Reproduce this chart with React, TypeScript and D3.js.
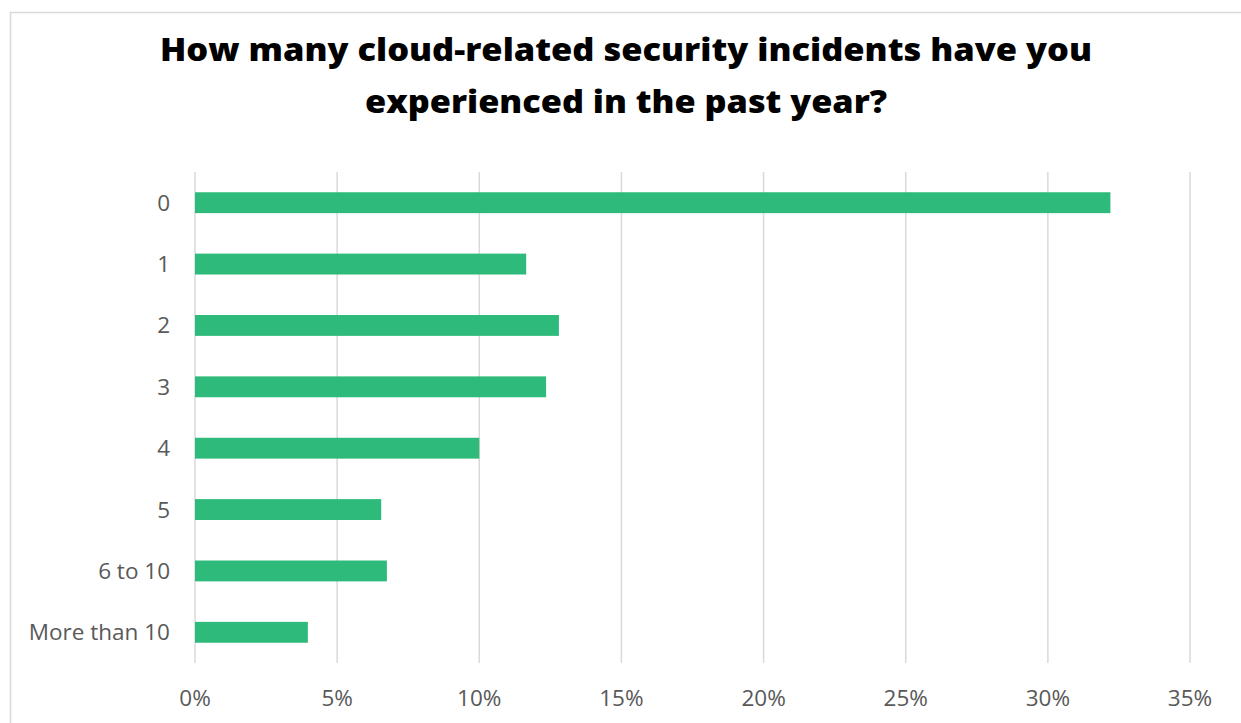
import React from "react";
import * as d3 from "d3";

const categories = ["0", "1", "2", "3", "4", "5", "6 to 10", "More than 10"];
const values = [32.2, 11.65, 12.8, 12.35, 10.0, 6.55, 6.75, 3.97];
const ticks = [0, 5, 10, 15, 20, 25, 30, 35];
const titleLines = ["How many cloud-related security incidents have you", "experienced in the past year?"];
const titleWidths = [932, 522];

export default function App() {
  const W = 1241, H = 723;
  const x = d3.scaleLinear().domain([0, 35]).range([195, 1190]);
  const y = d3.scaleBand().domain(categories).range([172, 663]).paddingInner(0.66).paddingOuter(0.33);
  const font = "'Open Sans', sans-serif";
  return (
    <svg width={W} height={H} style={{ position: "absolute", left: 0, top: 0 }}>
      <rect x={0} y={0} width={W} height={H} fill="#fff" />
      <path d={`M10.5,${H}V12.5H${W}`} fill="none" stroke="#d9d9d9" strokeWidth={1.5} />
      {titleLines.map((t, i) => (
        <text key={i} x={626} y={61 + i * 52} textAnchor="middle" fontFamily={font}
          fontWeight={800} fontSize={32} fill="#000" textLength={titleWidths[i]} lengthAdjust="spacingAndGlyphs">{t}</text>
      ))}
      {ticks.map((t) => (
        <g key={t}>
          <line x1={x(t)} x2={x(t)} y1={172} y2={663} stroke="#d9d9d9" strokeWidth={1.5} />
          <text x={x(t)} y={706} textAnchor="middle" fontFamily={font} fontSize={22.5} fill="#595959">{t}%</text>
        </g>
      ))}
      {categories.map((c, i) => (
        <g key={c}>
          <rect x={x(0)} y={y(c)!} width={x(values[i]) - x(0)} height={y.bandwidth()} fill="#2dba7a" />
          <text x={170} y={y(c)! + y.bandwidth() / 2 + 8} textAnchor="end" fontFamily={font} fontSize={22.5} fill="#595959">{c}</text>
        </g>
      ))}
    </svg>
  );
}
